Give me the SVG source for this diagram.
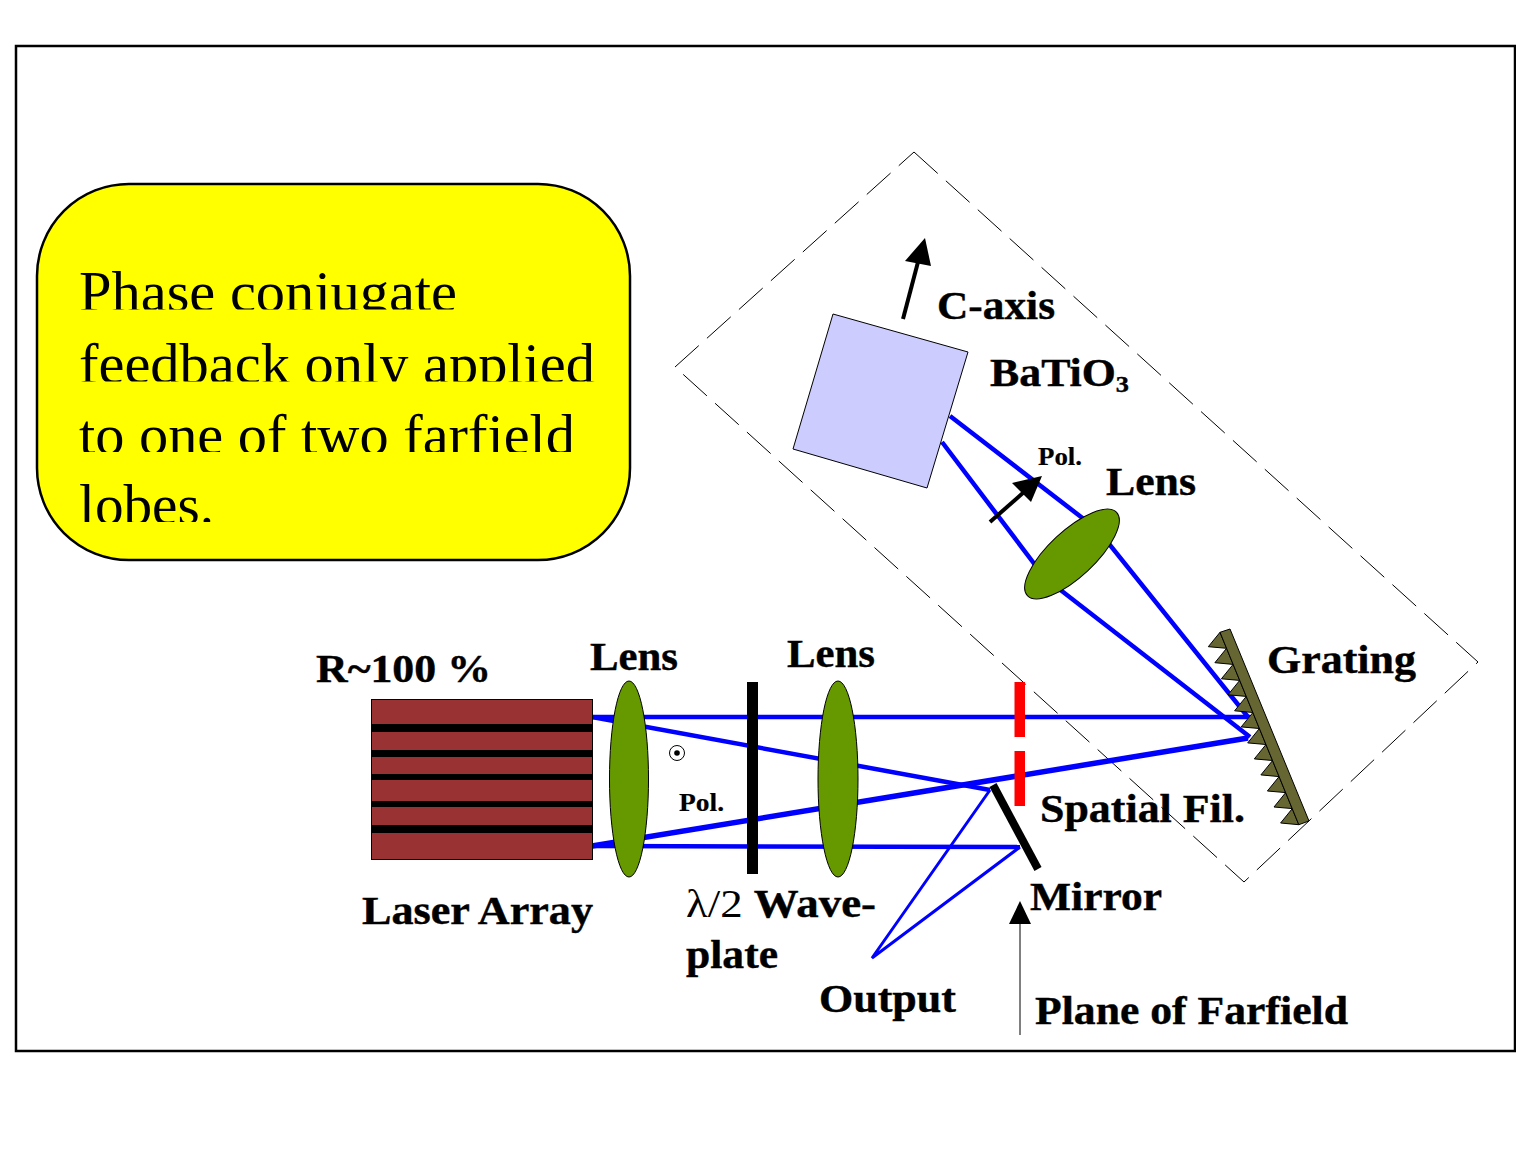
<svg xmlns="http://www.w3.org/2000/svg" width="1516" height="1157" viewBox="0 0 1516 1157">
<style>
.b{font-family:"Liberation Serif","Times New Roman",serif;font-weight:700;font-size:40px;fill:#000;stroke:#000;stroke-width:.4px}
.s{font-size:25px;stroke-width:.2px}
.y{font-family:"Liberation Serif","Times New Roman",serif;font-size:56px;fill:#000}
.ray{fill:none;stroke:#0000ff;stroke-width:4.5}
.ray2{fill:none;stroke:#0000ff;stroke-width:3}
.lens{fill:#669900;stroke:#000;stroke-width:1}
.stripe{fill:#000}
.slit{fill:#ff0000}
</style>
<defs>
<clipPath id="c1"><rect x="60" y="260" width="540" height="49.500"/></clipPath>
<clipPath id="c2"><rect x="60" y="330" width="560" height="51.500"/></clipPath>
<clipPath id="c3"><rect x="60" y="400" width="540" height="52"/></clipPath>
<clipPath id="c4"><rect x="60" y="470" width="540" height="52"/></clipPath>
</defs>
<rect width="1516" height="1157" fill="#fff"/>
<rect id="frame" x="16" y="46" width="1499" height="1005" fill="none" stroke="#000" stroke-width="2.5"/>

<g id="enclosure"><polygon points="914,152 1478,662 1244,882 675,367" fill="none" stroke="#000" stroke-width="1" stroke-dasharray="32 11"/></g>

<g id="connectors">
<polyline class="ray" points="592,717 1250,717"/>
<polyline class="ray" points="592,846 1020,847"/>
<polyline class="ray" points="592,717 990,790"/>
<polyline class="ray" style="stroke-width:5.500" points="592,846 1248,738"/>
<polyline class="ray" points="950,416 1098,530 1248,717"/>
<polyline class="ray" points="942,442 1045,578 1250,737"/>
<polyline class="ray2" points="1020,847 872,958 990,790"/>
<g id="c-axis-arrow"><line x1="903" y1="319" x2="918" y2="262" stroke="#000" stroke-width="4"/><polygon points="925,238 905,261 931,266" fill="#000"/></g>
<g id="pol-arrow"><line x1="990" y1="522" x2="1024" y2="492" stroke="#000" stroke-width="4"/><polygon points="1042,476 1012,483 1031,502" fill="#000"/></g>
<g id="plane-arrow"><line x1="1020" y1="1035" x2="1020" y2="922" stroke="#000" stroke-width="1"/><polygon points="1020,901 1009,924 1031,924" fill="#000"/></g>
</g>

<g id="info-box">
<rect x="37" y="184" width="593" height="376" rx="92" ry="92" fill="#ffff00" stroke="#000" stroke-width="2.5"/>
<text class="y" x="79" y="311" textLength="378" lengthAdjust="spacingAndGlyphs" clip-path="url(#c1)">Phase conjugate</text>
<text class="y" x="79" y="383" textLength="516" lengthAdjust="spacingAndGlyphs" clip-path="url(#c2)">feedback only applied</text>
<text class="y" x="79" y="454" textLength="496" lengthAdjust="spacingAndGlyphs" clip-path="url(#c3)">to one of two farfield</text>
<text class="y" x="79" y="524" textLength="135" lengthAdjust="spacingAndGlyphs" clip-path="url(#c4)">lobes.</text>
</g>

<g id="laser-array">
<rect x="371.500" y="699.500" width="221" height="160" fill="#993333" stroke="#000" stroke-width="1"/>
<rect class="stripe" x="371" y="724" width="222" height="8"/>
<rect class="stripe" x="371" y="750" width="222" height="7"/>
<rect class="stripe" x="371" y="774" width="222" height="6"/>
<rect class="stripe" x="371" y="801" width="222" height="6"/>
<rect class="stripe" x="371" y="825" width="222" height="8"/>
<text class="b" x="316" y="682" textLength="175" lengthAdjust="spacingAndGlyphs">R~100 %</text>
<text class="b" x="362" y="924" textLength="231" lengthAdjust="spacingAndGlyphs">Laser Array</text>
</g>

<g id="lens-1"><ellipse class="lens" cx="629" cy="779" rx="19.500" ry="98"/><text class="b" x="590" y="670" textLength="88" lengthAdjust="spacingAndGlyphs">Lens</text></g>

<g id="polarization">
<circle cx="677" cy="753" r="7.500" fill="#fff" stroke="#000" stroke-width="1"/><circle cx="677" cy="753" r="2.800" fill="#000"/>
<text class="b s" x="679" y="811" textLength="45" lengthAdjust="spacingAndGlyphs">Pol.</text>
</g>

<g id="waveplate">
<rect x="747" y="682" width="11" height="192" fill="#000"/>
<text class="b" x="686" y="917" textLength="190" lengthAdjust="spacingAndGlyphs"><tspan font-weight="400" style="stroke-width:0">λ/2</tspan> Wave-</text>
<text class="b" x="686" y="968" textLength="92" lengthAdjust="spacingAndGlyphs">plate</text>
</g>

<g id="lens-2"><ellipse class="lens" cx="838" cy="779" rx="20" ry="98"/><text class="b" x="787" y="667" textLength="88" lengthAdjust="spacingAndGlyphs">Lens</text></g>

<g id="spatial-filter">
<rect class="slit" x="1014.500" y="682" width="10.500" height="55"/>
<rect class="slit" x="1014.500" y="751" width="10.500" height="55"/>
<text class="b" x="1040" y="822" textLength="205" lengthAdjust="spacingAndGlyphs">Spatial Fil.</text>
</g>

<g id="mirror">
<line x1="993" y1="785" x2="1038" y2="869" stroke="#000" stroke-width="8"/>
<text class="b" x="1030" y="910" textLength="132" lengthAdjust="spacingAndGlyphs">Mirror</text>
</g>

<g id="output"><text class="b" x="819" y="1012" textLength="137" lengthAdjust="spacingAndGlyphs">Output</text></g>
<g id="plane-of-farfield"><text class="b" x="1035" y="1024" textLength="313" lengthAdjust="spacingAndGlyphs">Plane of Farfield</text></g>

<g id="grating">
<polygon fill="#666633" stroke="#000" stroke-width="1" points="1220,632.300 1208.300,646.700 1226.600,648.300 1214.900,662.700 1233.100,664.400 1221.400,678.800 1239.700,680.400 1228,694.800 1246.300,696.400 1234.600,710.800 1252.900,712.500 1241.200,726.900 1259.400,728.500 1247.700,742.900 1266,744.500 1254.300,758.900 1272.600,760.500 1260.900,774.900 1279.100,776.600 1267.400,791 1285.700,792.600 1274,807 1292.300,808.600 1280.600,823 1298.800,824.700"/>
<polygon fill="#666633" stroke="#000" stroke-width="1" points="1220,632.300 1230,629 1309,821 1298.800,824.700"/>
<text class="b" x="1267" y="673" textLength="149" lengthAdjust="spacingAndGlyphs">Grating</text>
</g>

<g id="lens-3"><ellipse class="lens" cx="1072" cy="554" rx="61" ry="23" transform="rotate(-43 1072 554)"/><text class="b" x="1106" y="495" textLength="90" lengthAdjust="spacingAndGlyphs">Lens</text></g>
<g id="pol-label"><text class="b s" x="1038" y="465" textLength="44" lengthAdjust="spacingAndGlyphs">Pol.</text></g>

<g id="crystal">
<polygon points="833,314 968,352 927,488 793,449" fill="#ccccff" stroke="#000" stroke-width="1"/>
<text class="b" x="990" y="386" textLength="139" lengthAdjust="spacingAndGlyphs">BaTiO<tspan font-size="24" dy="6">3</tspan></text>
<text class="b" x="937" y="319" textLength="118" lengthAdjust="spacingAndGlyphs">C-axis</text>
</g>
</svg>
